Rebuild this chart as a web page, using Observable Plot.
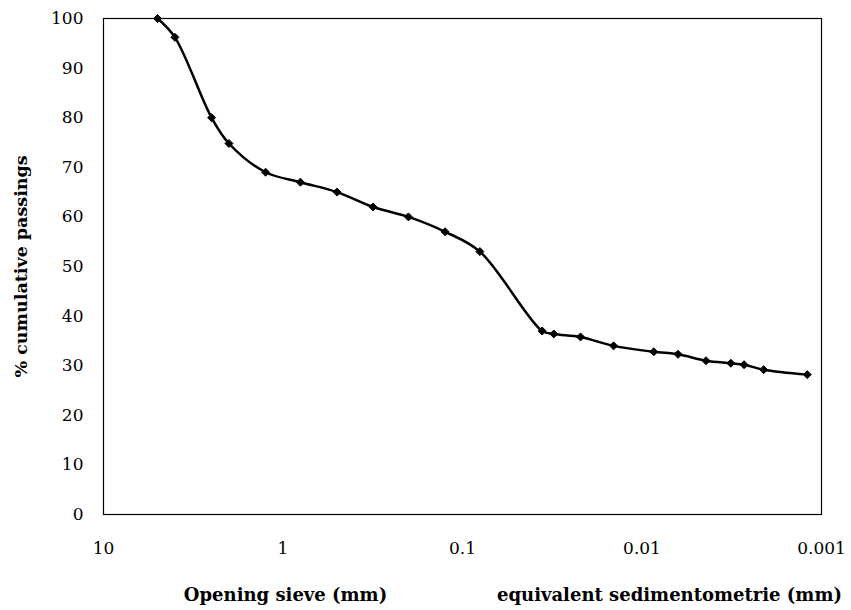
<!DOCTYPE html>
<html><head><meta charset="utf-8">
<script src="https://cdn.jsdelivr.net/npm/d3@7"></script>
<script src="https://cdn.jsdelivr.net/npm/@observablehq/plot@0.6"></script>
<style>
body{margin:0;background:#fff;}
#chart svg{display:block;}
</style></head><body>
<div id="chart"></div>
<script>
// Particle size (mm) and cumulative passing (%)
const sizes = [5, 4, 2.5, 2, 1.25, 0.8, 0.5, 0.315, 0.2, 0.125, 0.08, 0.036, 0.031, 0.022, 0.0144, 0.0086, 0.0063, 0.0044, 0.0032, 0.0027, 0.0021, 0.0012];
const passing = [100, 96.2, 80, 74.8, 69, 67, 65, 62, 60, 57, 53, 37, 36.4, 35.8, 34, 32.8, 32.3, 31, 30.5, 30.2, 29.2, 28.2];
const xTicks = [10, 1, 0.1, 0.01, 0.001];
const xTickLabels = ["10", "1", "0.1", "0.01", "0.001"];
const yTicks = [0, 10, 20, 30, 40, 50, 60, 70, 80, 90, 100];
const yLabel = "% cumulative passings";
const xTitle1 = "Opening sieve (mm)";
const xTitle2 = "equivalent sedimentometrie (mm)";

const data = sizes.map((s, i) => ({size: s, pass: passing[i]}));
const tickLabelOf = new Map(xTicks.map((t, i) => [t, xTickLabels[i]]));
const font = "DejaVu Serif";

const chart = Plot.plot({
  width: 851,
  height: 610,
  marginLeft: 103,
  marginRight: 30,
  marginTop: 18,
  marginBottom: 96,
  style: {fontFamily: font, fontSize: "17px", color: "#000", background: "#fff"},
  x: {type: "log", domain: [10, 0.001]},
  y: {domain: [0, 100]},
  marks: [
    Plot.frame({stroke: "#000", strokeWidth: 1.2}),
    Plot.axisX({ticks: xTicks, tickSize: 0, tickPadding: 27, tickFormat: (d) => tickLabelOf.get(d) ?? String(d), fontSize: 17, label: null}),
    Plot.axisY({ticks: yTicks, tickSize: 0, tickPadding: 20, fontSize: 17, label: null}),
    Plot.line(data, {x: "size", y: "pass", curve: "catmull-rom", stroke: "#000", strokeWidth: 2.5}),
    Plot.dot(data, {x: "size", y: "pass", symbol: "diamond2", r: 3.6, fill: "#000", stroke: "#000", strokeWidth: 1}),
    Plot.text([yLabel], {frameAnchor: "left", dx: -82, rotate: -90, textAnchor: "middle", fontSize: 17.5, fontWeight: "bold", fill: "#000"}),
    Plot.text([xTitle1], {frameAnchor: "bottom", dx: -177, dy: 86, fontSize: 18, fontWeight: "bold", fill: "#000"}),
    Plot.text([xTitle2], {frameAnchor: "bottom", dx: 207, dy: 86, fontSize: 18, fontWeight: "bold", fill: "#000"})
  ]
});
document.getElementById("chart").append(chart);
</script>
</body></html>
